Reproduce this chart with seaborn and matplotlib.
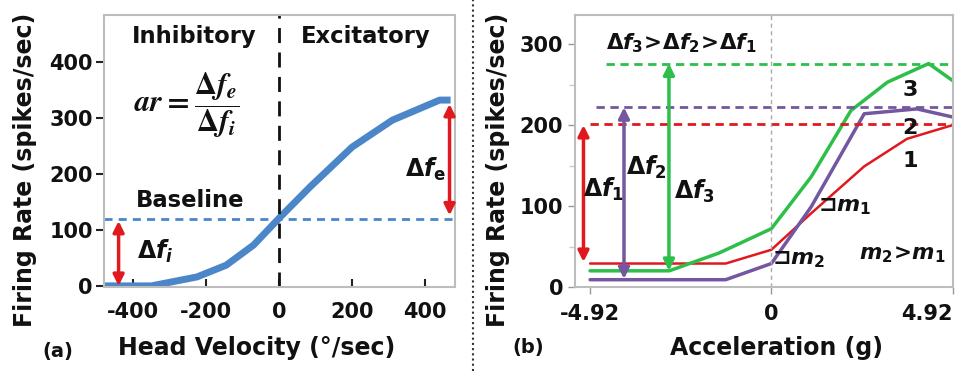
import matplotlib
matplotlib.use("Agg")
import matplotlib.pyplot as plt
from matplotlib.lines import Line2D
import seaborn as sns
import pandas as pd

# ---------------- data ----------------
velocity = [-480, -350, -225, -145, -70, 0, 85, 200, 310, 440, 470]
rate_a = [0, 0, 16, 37, 73, 121, 177, 248, 296, 332, 332]
baseline = 120
vel_ticks = [-400, -200, 0, 200, 400]
rate_ticks_a = [0, 100, 200, 300, 400]

accel_1 = [-4.92, -1.24, 0, 1.08, 2.52, 3.68, 4.92]
rate_1 = [29, 29, 46, 91, 149, 183, 200]
accel_2 = [-4.92, -1.24, 0, 1.08, 2.52, 3.95, 4.92]
rate_2 = [9, 9, 29, 99, 214, 220, 210]
accel_3 = [-4.92, -2.77, -1.42, 0, 1.08, 2.16, 3.15, 4.27, 4.92]
rate_3 = [20, 20, 42, 72, 136, 218, 253, 276, 255]
peak_1, peak_2, peak_3 = 201, 222, 276
low_1, low_2, low_3 = 31, 10, 20
accel_ticks = [-4.92, 0, 4.92]
accel_tick_labels = ["-4.92", "0", "4.92"]
rate_ticks_b = [0, 100, 200, 300]

# ---------------- style ----------------
sns.set_theme(style="white")
plt.rcParams["font.family"] = ["DejaVu Sans"]
plt.rcParams["font.weight"] = "bold"
plt.rcParams["axes.unicode_minus"] = False
plt.rcParams["mathtext.fontset"] = "custom"
plt.rcParams["mathtext.it"] = "DejaVu Sans:italic:bold"
plt.rcParams["mathtext.rm"] = "DejaVu Sans:bold"
plt.rcParams["mathtext.bf"] = "DejaVu Sans:bold"

BLUE = "#4a86c8"
RED = "#e0191e"
GREEN = "#2dbf4a"
PURPLE = "#7457a0"
SPINE = "#bdbdbd"
TXT = "#111111"

W, H = 965, 371
fig = plt.figure(figsize=(9.65, 3.71), dpi=100)
axa = fig.add_axes([104 / W, 1 - 287 / H, 351 / W, 272 / H])
axb = fig.add_axes([575 / W, 1 - 287 / H, 378 / W, 272 / H])

TICK_FS = 15
LAB_FS = 17

# ---------------- panel (a) ----------------
df_a = pd.DataFrame({"v": velocity, "r": rate_a})
sns.lineplot(data=df_a, x="v", y="r", ax=axa, color=BLUE, lw=5, sort=False,
             solid_capstyle="butt")
axa.axhline(baseline, color=BLUE, lw=2, dashes=(2.9, 2.2))
axa.axvline(0, color="#111111", lw=2, dashes=(5.4, 3.4))
axa.set_xlim(-480, 482)
axa.set_ylim(-2, 484)
axa.set_xticks(vel_ticks)
axa.set_yticks(rate_ticks_a)
axa.tick_params(axis="x", bottom=True, direction="in", length=6, width=1.5, color="#222222",
                labelsize=TICK_FS, pad=11, labelcolor=TXT)
axa.tick_params(axis="y", left=True, direction="out", length=6, width=1.5, color="#222222",
                labelsize=TICK_FS, pad=2, labelcolor=TXT)
axa.set_xlabel("Head Velocity (°/sec)", fontsize=LAB_FS, fontweight="bold", color=TXT)
axa.set_ylabel("Firing Rate (spikes/sec)", fontsize=LAB_FS, fontweight="bold", color=TXT)
axa.xaxis.label.set_verticalalignment("center")
axa.yaxis.label.set_verticalalignment("center")
axa.xaxis.set_label_coords((257 - 104) / 351, (287 - 348) / 272)
axa.yaxis.set_label_coords((25 - 104) / 351, (287 - 170) / 272)
for s in axa.spines.values():
    s.set_color(SPINE)
    s.set_linewidth(1.5)

arrow_kw = dict(arrowstyle="<|-|>", lw=2.5, mutation_scale=16, shrinkA=0, shrinkB=0)
axa.annotate("", xy=(-440, 0), xytext=(-440, 116), arrowprops=dict(color=RED, **arrow_kw))
axa.annotate("", xy=(467, 126), xytext=(467, 325), arrowprops=dict(color=RED, **arrow_kw))

axa.text(-232, 445, "Inhibitory", fontsize=16.3, fontweight="bold", ha="center", va="center", color=TXT)
axa.text(238, 445, "Excitatory", fontsize=16.3, fontweight="bold", ha="center", va="center", color=TXT)
axa.text(-245, 152, "Baseline", fontsize=16.3, fontweight="bold", ha="center", va="center", color=TXT)
axa.text(-255, 323, r"$ar = \dfrac{\Delta f_e}{\Delta f_i}$", fontsize=22, ha="center", va="center",
         color=TXT, math_fontfamily="stix")
axa.text(402, 208, r"$Δf_{\mathrm{e}}$", fontsize=17, ha="center", va="center", color=TXT)
axa.text(-340, 62, r"$Δf_i$", fontsize=17, ha="center", va="center", color=TXT)
fig.text(58 / W, 1 - 351 / H, "(a)", fontsize=14, fontweight="bold", ha="center", va="center", color=TXT)

# ---------------- panel (b) ----------------
for xs, ys, c, lw in [(accel_1, rate_1, RED, 1.8), (accel_3, rate_3, GREEN, 2.5), (accel_2, rate_2, PURPLE, 2.5)]:
    d = pd.DataFrame({"a": xs, "r": ys})
    sns.lineplot(data=d, x="a", y="r", ax=axb, color=c, lw=lw, sort=False)

dash_b = (0, (3, 2))
axb.hlines(peak_3, -4.5, 4.93, color=GREEN, lw=2, linestyles=dash_b)
axb.hlines(peak_2, -4.75, 4.93, color=PURPLE, lw=2, linestyles=dash_b)
axb.hlines(peak_1, -4.92, 4.93, color=RED, lw=2, linestyles=dash_b)
axb.axvline(0, color="#aaaaaa", lw=1, dashes=(3, 2.5))

axb.annotate("", xy=(-5.1, low_1), xytext=(-5.1, peak_1 - 1),
             arrowprops=dict(color=RED, **arrow_kw))
axb.annotate("", xy=(-4.0, low_2), xytext=(-4.0, peak_2),
             arrowprops=dict(color=PURPLE, **arrow_kw))
axb.annotate("", xy=(-2.78, low_3), xytext=(-2.78, peak_3),
             arrowprops=dict(color=GREEN, **arrow_kw))

axb.set_xlim(-5.33, 4.93)
axb.set_ylim(0, 336)
axb.set_xticks(accel_ticks)
axb.set_xticklabels(accel_tick_labels)
axb.get_xticklabels()[-1].set_horizontalalignment("right")
axb.set_yticks(rate_ticks_b)
axb.set_yticks([50, 150, 250], minor=True)
axb.tick_params(axis="both", which="major", bottom=True, left=True, direction="out", length=5,
                width=1, color="#999999", labelsize=TICK_FS, labelcolor=TXT)
axb.tick_params(axis="x", pad=7)
axb.tick_params(axis="y", which="minor", direction="out", length=4, width=1, color="#cccccc", left=True)
axb.set_xlabel("Acceleration (g)", fontsize=LAB_FS, fontweight="bold", color=TXT)
axb.set_ylabel("Firing Rate (spikes/sec)", fontsize=LAB_FS, fontweight="bold", color=TXT)
axb.xaxis.label.set_verticalalignment("center")
axb.yaxis.label.set_verticalalignment("center")
axb.xaxis.set_label_coords((776 - 575) / 378, (287 - 348) / 272)
axb.yaxis.set_label_coords((498 - 575) / 378, (287 - 170) / 272)
for s in axb.spines.values():
    s.set_color(SPINE)
    s.set_linewidth(1.5)

axb.text(-2.45, 301, r"$Δf_3\!>\!Δf_2\!>\!Δf_1$", fontsize=15.5, ha="center", va="center", color=TXT)
axb.text(-4.55, 120, r"$Δf_1$", fontsize=17, ha="center", va="center", color=TXT)
axb.text(-3.4, 148, r"$Δf_2$", fontsize=17, ha="center", va="center", color=TXT)
axb.text(-2.1, 118, r"$Δf_3$", fontsize=17, ha="center", va="center", color=TXT)
axb.text(3.76, 243, "3", fontsize=16, fontweight="bold", ha="center", va="center", color=TXT)
axb.text(3.76, 196, "2", fontsize=16, fontweight="bold", ha="center", va="center", color=TXT)
axb.text(3.76, 156, "1", fontsize=16, fontweight="bold", ha="center", va="center", color=TXT)
axb.text(2.0, 99, r"$⊐m_1$", fontsize=16, ha="center", va="center", color=TXT)
axb.text(0.75, 34, r"$⊐m_2$", fontsize=16, ha="center", va="center", color=TXT)
axb.text(3.55, 40, r"$m_2\!>\!m_1$", fontsize=15.5, ha="center", va="center", color=TXT)
fig.text(528 / W, 1 - 348 / H, "(b)", fontsize=14, fontweight="bold", ha="center", va="center", color=TXT)

# dotted separator
fig.add_artist(Line2D([473 / W, 473 / W], [0.0, 1.0], transform=fig.transFigure,
                      color="#333333", lw=1.5, linestyle=(0, (1, 1.5))))

fig.savefig("out.png", dpi=100)
